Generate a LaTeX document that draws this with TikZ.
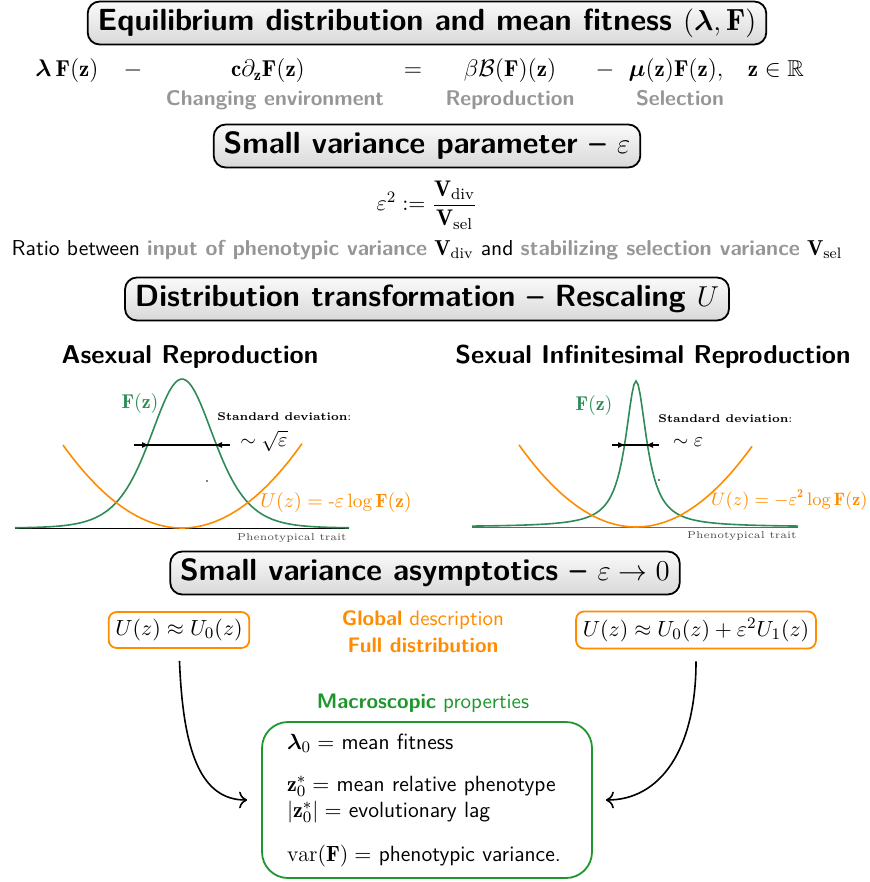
\documentclass[tikz,border=0pt]{standalone}
\usepackage{amsmath,amssymb,bm}
\usepackage{fontspec}
\usetikzlibrary{arrows.meta,positioning}
\definecolor{orangeU}{RGB}{255,140,0}
\definecolor{greenF}{RGB}{46,139,87}
\definecolor{greenM}{RGB}{30,150,45}
\definecolor{grayL}{RGB}{150,150,150}

\tikzset{
  titlebox/.style={draw,rounded corners=6pt,line width=0.9pt,top color=gray!4,bottom color=gray!30,
    inner xsep=5pt,inner ysep=2pt,minimum height=21.5pt,font=\sffamily\bfseries\fontsize{15.3}{17}\selectfont},
  eqterm/.style={anchor=base,font=\fontsize{11.5}{13}\selectfont},
  graylab/.style={anchor=base,text=grayL,font=\sffamily\bfseries\fontsize{10.6}{12}\selectfont},
  heading/.style={font=\sffamily\bfseries\fontsize{12.9}{15}\selectfont},
  ubox/.style={draw=orangeU,line width=0.9pt,rounded corners=4pt,minimum height=18pt,
    font=\fontsize{11}{13}\selectfont},
  orangelab/.style={text=orangeU,font=\sffamily\fontsize{10.5}{12}\selectfont},
  macrobox/.style={draw=greenM,line width=0.9pt,rounded corners=13pt,minimum width=165pt,
    minimum height=78pt,text width=140pt,align=left,font=\sffamily\fontsize{11}{13}\selectfont},
  arr/.style={-{To[length=4pt]},line width=0.8pt},
}

\begin{document}
\begin{tikzpicture}[x=0.5pt,y=-0.5pt]
  \useasboundingbox (0,0) rectangle (870,882);
  % equilibrium problem
  \node[titlebox] (eqtitle) at (427,23) {Equilibrium distribution and mean fitness $(\boldsymbol{\lambda},\mathbf{F})$};
  \node[eqterm] (lam) at (67,77) {$\boldsymbol{\lambda}\,\mathbf{F}(\mathbf{z})$};
  \node[eqterm] (minusa) at (133,77) {$-$};
  \node[eqterm] (transp) at (268,77) {$\mathbf{c}\partial_{\mathbf{z}}\mathbf{F}(\mathbf{z})$};
  \node[eqterm] (equal) at (413,77) {$=$};
  \node[eqterm] (repr) at (510,77) {$\beta\mathcal{B}(\mathbf{F})(\mathbf{z})$};
  \node[eqterm] (minusb) at (605,77) {$-$};
  \node[eqterm] (sel) at (676,77) {$\boldsymbol{\mu}(\mathbf{z})\mathbf{F}(\mathbf{z}),$};
  \node[eqterm] (dom) at (776,77) {$\mathbf{z}\in\mathbb{R}$};
  \node[graylab] (envlab) at (275,106) {Changing environment};
  \node[graylab] (reprlab) at (510,106) {Reproduction};
  \node[graylab] (sellab) at (680,106) {Selection};
  % small parameter
  \node[titlebox] (epstitle) at (427,146) {Small variance parameter -- $\varepsilon$};
  \node[font=\fontsize{11.3}{13}\selectfont] (ratio) at (427,205) {$\varepsilon^2 := \dfrac{\mathbf{V}_{\mathrm{div}}}{\mathbf{V}_{\mathrm{sel}}}$};
  \node[font=\sffamily\fontsize{10.8}{12}\selectfont] (ratiotext) at (427,250) {Ratio between
    \textcolor{grayL}{\textbf{input of phenotypic variance}} $\mathbf{V}_{\mathrm{div}}$ and
    \textcolor{grayL}{\textbf{stabilizing selection variance}} $\mathbf{V}_{\mathrm{sel}}$};
  % rescaling
  \node[titlebox] (resctitle) at (427,299) {Distribution transformation -- Rescaling $U$};
  \node[heading] (asex) at (190,357) {Asexual Reproduction};
  \node[heading] (sex) at (653,357) {Sexual Infinitesimal Reproduction};
  % asexual plot
  \draw[line width=0.5pt] (15,528) -- (349,528);
  \draw[greenF,line width=0.8pt,domain=15:349,samples=120,variable=\x] plot(\x,{528-149/(cosh((\x-182)/43))^2});
  \draw[orangeU,line width=0.8pt,domain=63:302,samples=80,variable=\x] plot(\x,{528-0.00586*(\x-182)^2});
  \draw[line width=0.8pt] (134,445) -- (230,445);
  \draw[-{Latex[length=4pt]},line width=0.8pt] (134,445) -- (150,445);
  \draw[-{Latex[length=4pt]},line width=0.8pt] (230,445) -- (214,445);
  \fill (207,481) circle (0.4pt);
  \draw (140,403) node[text=greenF,font=\fontsize{10}{12}\selectfont] {$\mathbf{F}(\mathbf{z})$};
  \draw (217,417) node[anchor=west,inner sep=0pt,font=\fontsize{5.6}{7}\selectfont] {\textbf{Standard deviation}:};
  \draw (264,441) node[inner sep=0pt,font=\fontsize{10}{12}\selectfont] {$\sim\sqrt{\varepsilon}$};
  \draw (336,502) node[text=orangeU,font=\fontsize{9.6}{11}\selectfont] {$U(z) = \text{-}\varepsilon\log\mathbf{F}(\mathbf{z})$};
  \draw (347,538) node[anchor=east,inner sep=0pt,text=black!70,font=\fontsize{5}{6}\selectfont] {Phenotypical trait};
  % sexual plot
  \draw[line width=0.5pt,black!60] (472,527) -- (798,527);
  \draw[greenF,line width=0.8pt,domain=472:798,samples=160,variable=\x] plot(\x,{527-146/(1+((\x-636)/13)^2)});
  \draw[orangeU,line width=0.8pt,domain=519:752,samples=80,variable=\x] plot(\x,{527-0.006*(\x-636)^2});
  \draw[line width=0.8pt] (612,445) -- (659,445);
  \draw[-{Latex[length=4pt]},line width=0.8pt] (612,445) -- (626,445);
  \draw[-{Latex[length=4pt]},line width=0.8pt] (659,445) -- (645,445);
  \fill (659,480) circle (0.4pt);
  \draw (594,405) node[text=greenF,font=\fontsize{10}{12}\selectfont] {$\mathbf{F}(\mathbf{z})$};
  \draw (658,419) node[anchor=west,inner sep=0pt,font=\fontsize{5.6}{7}\selectfont] {\textbf{Standard deviation}:};
  \draw (688,442) node[inner sep=0pt,font=\fontsize{10}{12}\selectfont] {$\sim\varepsilon$};
  \draw (868,500) node[anchor=east,inner sep=0pt,text=orangeU,font=\fontsize{9}{11}\selectfont] {$U(z) = -\varepsilon^{\mathbf{2}}\log\mathbf{F}(\mathbf{z})$};
  \draw (797,536) node[anchor=east,inner sep=0pt,text=black!70,font=\fontsize{5}{6}\selectfont] {Phenotypical trait};
  % asymptotics
  \node[titlebox] (asymtitle) at (425,573) {Small variance asymptotics -- $\varepsilon\to 0$};
  \node[ubox] (ulow) at (179,630) {$U(z)\approx U_0(z)$};
  \node[ubox] (uhigh) at (696,630) {$U(z)\approx U_0(z)+\varepsilon^2U_1(z)$};
  \node[orangelab] (global) at (423,620) {\textbf{Global} description};
  \node[orangelab] (full) at (423,645) {\textbf{Full distribution}};
  \node[text=greenM,font=\sffamily\fontsize{10.5}{12}\selectfont] (macrolab) at (423,703) {\textbf{Macroscopic} properties};
  \node[macrobox] (macro) at (427,800) {$\boldsymbol{\lambda}_0=$ mean fitness\\[8pt]
    $\mathbf{z}_0^*=$ mean relative phenotype\\
    $|\mathbf{z}_0^*|=$ evolutionary lag\\[9pt]
    $\mathrm{var}(\mathbf{F})=$ phenotypic variance.};
  \draw[arr,shorten <=6pt,shorten >=7pt] (ulow.south) .. controls (183,750) and (200,800) .. (macro.west);
  \draw[arr,shorten <=6pt,shorten >=6.5pt] (uhigh.south) .. controls (696,750) and (660,800) .. (macro.east);
\end{tikzpicture}
\end{document}
